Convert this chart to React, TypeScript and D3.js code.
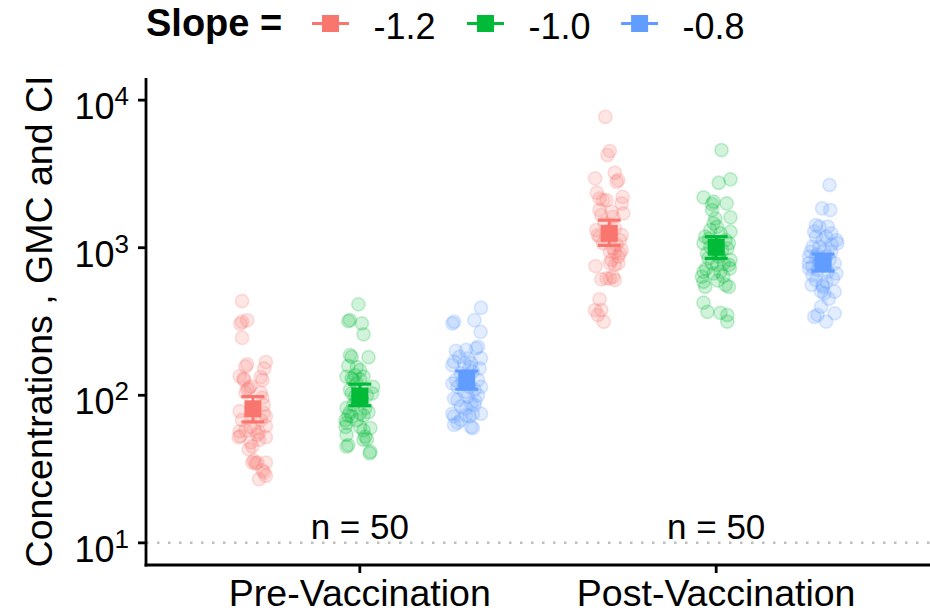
import * as d3 from 'd3';
import { useEffect, useRef } from 'react';

const width = 930;
const height = 614;

const visits = ['Pre-Vaccination', 'Post-Vaccination'];
const slopes = ['-1.2', '-1.0', '-0.8'];
const colors = ['#F8766D', '#00BA38', '#619CFF'];
const yTicks = [10, 100, 1000, 10000];
const nLabels = ['n = 50', 'n = 50'];

// [jitter (-1..1), concentration]
const preM12 = [
  [-0.76, 435], [-0.76, 315], [-0.4, 322], [-0.88, 305], [-0.76, 245], [-0.4, 162], [-0.52, 157],
  [0.91, 168], [0.79, 152], [-0.93, 135], [-0.64, 130], [0.55, 133], [0.67, 127], [-0.16, 115],
  [-0.29, 112], [0.55, 104], [0.67, 96], [-0.93, 78], [0.76, 86], [0.76, 76], [0.91, 72],
  [-0.76, 68], [0.91, 62], [-0.16, 61], [0.07, 59], [-0.93, 57], [-0.88, 53], [-1.0, 52],
  [0.43, 56], [0.31, 54], [0.91, 52], [-0.16, 48], [-0.29, 43], [-0.04, 45], [0.07, 36],
  [0.19, 34.5], [0.31, 35], [-0.04, 35], [0.91, 35], [0.67, 31], [0.79, 30], [0.91, 28.5],
  [0.43, 27], [-0.52, 104], [-0.16, 72], [-0.52, 58], [0.55, 68], [-0.4, 110], [0.43, 50],
  [-0.64, 127],
];
const preM10 = [
  [-0.1, 413], [-0.69, 323], [-0.81, 318], [0.14, 307], [0.26, 259], [-0.69, 187], [-0.57, 182],
  [0.61, 181], [-0.81, 158], [-0.21, 155], [0.02, 148], [-0.93, 134], [-0.57, 130], [-0.34, 137],
  [0.02, 128], [-0.69, 109], [0.93, 114], [0.86, 103], [-0.93, 82], [-0.69, 77], [-0.81, 73],
  [-1.0, 68], [-0.93, 65], [0.02, 75.5], [0.26, 73], [-0.21, 68], [0.74, 60], [0.26, 58],
  [-0.93, 54], [0.38, 52.5], [0.26, 50], [0.5, 50.4], [-0.81, 46], [-0.93, 45], [0.74, 41.5],
  [0.69, 40.5], [-0.46, 127], [-0.21, 120], [0.26, 134], [-0.57, 103], [-0.34, 98], [0.5, 100],
  [0.38, 82], [-0.46, 86], [-0.21, 93], [0.14, 95], [0.61, 77], [-1.0, 61], [-0.57, 72],
  [0.02, 61],
];
const preM08 = [
  [1.0, 392], [-0.89, 315], [-1.0, 307], [0.54, 323], [0.97, 269], [-0.76, 200], [-0.05, 203],
  [0.66, 208], [0.79, 213], [-0.89, 169], [-1.0, 160], [1.0, 178], [0.9, 152], [0.07, 178],
  [0.31, 165], [-0.76, 127], [-1.0, 120], [0.79, 127], [1.0, 114], [-0.89, 95], [-0.64, 93],
  [0.79, 100], [0.07, 98], [0.31, 88], [-1.0, 75], [-0.89, 72], [1.0, 75], [-0.05, 73],
  [0.19, 72], [0.43, 75], [-0.89, 63], [-0.64, 65], [0.31, 61], [0.43, 60], [-0.41, 141],
  [-0.05, 134], [0.43, 145], [-0.64, 114], [0.19, 114], [-0.17, 106], [0.54, 109], [-0.41, 84],
  [-0.05, 82], [0.54, 86], [-0.41, 68], [-0.17, 165], [-0.53, 182], [0.2, 155], [-0.3, 124],
  [0.6, 92],
];
const postM12 = [
  [-0.27, 7710], [0.04, 4520], [-0.13, 4250], [0.39, 3220], [-0.99, 2950], [0.63, 2870],
  [0.51, 2800], [-0.87, 2360], [-0.68, 2160], [-0.44, 2100], [-0.2, 2100], [0.94, 2210],
  [0.87, 1995], [0.99, 1710], [-0.68, 1800], [-0.56, 1665], [0.16, 1750], [0.27, 1620],
  [-0.91, 1318], [-0.8, 1220], [-0.68, 1188], [0.87, 1220], [0.75, 1127], [0.87, 964],
  [0.75, 916], [0.63, 869], [0.27, 989], [0.39, 940], [0.04, 783], [0.16, 826], [0.39, 765],
  [0.63, 783], [-0.96, 751], [-0.56, 611], [-0.2, 620], [0.04, 620], [0.27, 635], [0.39, 604],
  [-0.68, 447], [-1.0, 378], [-0.56, 378], [-0.8, 350], [-0.39, 315], [-0.32, 1462],
  [-0.2, 1188], [0.39, 1352], [-0.44, 1072], [0.04, 940], [-0.1, 1300], [0.5, 1050],
];
const postM10 = [
  [0.37, 4590], [0.18, 2755], [1.0, 2905], [-0.89, 2195], [-0.18, 2050], [-0.29, 1975],
  [0.73, 1995], [-0.06, 1580], [-0.18, 1462], [0.06, 1387], [1.0, 1607], [1.0, 1283],
  [-0.77, 1188], [-0.89, 1072], [0.89, 1072], [0.78, 989], [-0.65, 916], [-0.54, 847],
  [1.0, 826], [0.89, 765], [-0.29, 783], [0.06, 765], [0.54, 783], [-0.89, 687], [-1.0, 636],
  [-0.89, 588], [-0.77, 544], [-0.18, 670], [0.3, 687], [0.96, 724], [0.66, 559], [0.89, 544],
  [-0.89, 424], [-0.61, 368], [0.3, 362], [0.78, 350], [0.78, 316], [-0.41, 1318], [0.3, 1251],
  [-0.06, 1072], [0.42, 964], [-0.41, 1014], [0.66, 1127], [0.18, 869], [-0.29, 1800],
  [-0.5, 1150], [0.2, 900], [-0.7, 720], [0.5, 640], [0.1, 600],
];
const postM08 = [
  [0.45, 2660], [-0.07, 1850], [0.5, 1800], [-0.5, 1422], [-0.26, 1387], [0.33, 1387],
  [-0.62, 1283], [0.93, 1127], [1.0, 1072], [0.21, 1188], [-0.03, 1127], [-0.74, 1014],
  [-0.86, 940], [-0.98, 869], [-1.0, 783], [-0.98, 724], [0.81, 783], [0.93, 670], [-0.74, 653],
  [-0.5, 604], [0.21, 588], [-0.03, 559], [-0.14, 504], [0.09, 491], [0.81, 504], [-0.14, 398],
  [-0.62, 340], [-0.39, 350], [0.21, 316], [0.81, 359], [-0.26, 1014], [0.09, 964], [0.57, 940],
  [-0.5, 869], [0.45, 826], [-0.03, 765], [-0.39, 706], [0.33, 687], [-0.26, 783], [-0.74, 743],
  [0.21, 869], [0.57, 1251], [-0.5, 1188], [-0.03, 544], [0.6, 1050], [-0.4, 900], [0.7, 620],
  [-0.8, 560], [0.4, 450], [-0.2, 820],
];

const points = [
  [preM12, preM10, preM08],
  [postM12, postM10, postM08],
];

// geometric means and 95% CI per visit, per slope
const gmc = [[81, 99, 127], [1251, 1007, 796]];
const ciLow = [[66, 85, 110], [1037, 847, 695]];
const ciHigh = [[98, 119, 146], [1538, 1188, 906]];

const font = '"Liberation Sans", Arial, Helvetica, sans-serif';

const App = () => {
  const svgRef = useRef(null);

  useEffect(() => {
    const svg = d3.select(svgRef.current);
    svg.selectAll('*').remove();

    const left = 146;
    const right = 930;
    const top = 78;
    const bottom = 565;

    const x = d3.scalePoint().domain(visits).range([left, right]).padding(0.6);
    const step = x.step();
    const dodge = d3.scalePoint().domain(slopes).range([-0.3 * step, 0.3 * step]);
    const jitterW = 0.04 * step;
    const y = d3
      .scaleLog()
      .domain([Math.pow(10, 0.85), Math.pow(10, 4.15)])
      .range([bottom, top]);

    // reference line at LLOQ
    svg
      .append('line')
      .attr('x1', left)
      .attr('x2', right)
      .attr('y1', y(10))
      .attr('y2', y(10))
      .attr('stroke', '#BEBEBE')
      .attr('stroke-width', 2.5)
      .attr('stroke-dasharray', '2.5 8.5');

    // n labels
    svg
      .selectAll('text.nlab')
      .data(visits)
      .enter()
      .append('text')
      .attr('class', 'nlab')
      .attr('x', (d) => x(d))
      .attr('y', 539)
      .attr('text-anchor', 'middle')
      .style('font-family', font)
      .style('font-size', '35px')
      .text((d, i) => nLabels[i]);

    // jittered points
    visits.forEach((v, vi) => {
      slopes.forEach((s, si) => {
        const cx = x(v) + dodge(s);
        svg
          .append('g')
          .selectAll('circle')
          .data(points[vi][si])
          .enter()
          .append('circle')
          .attr('cx', (d) => cx + d[0] * jitterW)
          .attr('cy', (d) => y(d[1]))
          .attr('r', 6.6)
          .attr('fill', colors[si])
          .attr('fill-opacity', 0.18)
          .attr('stroke', colors[si])
          .attr('stroke-opacity', 0.22)
          .attr('stroke-width', 1.6);
      });
    });

    // GMC + CI
    visits.forEach((v, vi) => {
      slopes.forEach((s, si) => {
        const cx = x(v) + dodge(s);
        const g = svg.append('g').attr('stroke', colors[si]).attr('fill', colors[si]);
        g.append('line')
          .attr('x1', cx)
          .attr('x2', cx)
          .attr('y1', y(ciLow[vi][si]))
          .attr('y2', y(ciHigh[vi][si]))
          .attr('stroke-width', 3);
        [ciLow[vi][si], ciHigh[vi][si]].forEach((c) => {
          g.append('line')
            .attr('x1', cx - 11.5)
            .attr('x2', cx + 11.5)
            .attr('y1', y(c))
            .attr('y2', y(c))
            .attr('stroke-width', 3.2);
        });
        g.append('rect')
          .attr('x', cx - 8.5)
          .attr('y', y(gmc[vi][si]) - 8.5)
          .attr('width', 17)
          .attr('height', 17)
          .attr('stroke', 'none');
      });
    });

    // axes
    const axis = svg.append('g').attr('stroke', '#000').attr('stroke-width', 2.8);
    axis.append('line').attr('x1', left).attr('x2', left).attr('y1', top).attr('y2', bottom + 1.4);
    axis.append('line').attr('x1', left - 1.4).attr('x2', right).attr('y1', bottom).attr('y2', bottom);
    yTicks.forEach((t) => {
      axis.append('line').attr('x1', left - 8).attr('x2', left).attr('y1', y(t)).attr('y2', y(t));
    });
    visits.forEach((v) => {
      axis.append('line').attr('x1', x(v)).attr('x2', x(v)).attr('y1', bottom).attr('y2', bottom + 8);
    });

    const yl = svg
      .selectAll('text.ytick')
      .data(yTicks)
      .enter()
      .append('text')
      .attr('class', 'ytick')
      .attr('x', 129)
      .attr('y', (d) => y(d) + 19)
      .attr('text-anchor', 'end')
      .style('font-family', font)
      .style('font-size', '36px');
    yl.append('tspan').text('10');
    yl.append('tspan')
      .attr('dy', -14)
      .style('font-size', '26px')
      .text((d) => String(Math.round(Math.log10(d))));

    svg
      .selectAll('text.xtick')
      .data(visits)
      .enter()
      .append('text')
      .attr('class', 'xtick')
      .attr('x', (d) => x(d))
      .attr('y', 606)
      .attr('text-anchor', 'middle')
      .style('font-family', font)
      .style('font-size', '37.5px')
      .text((d) => d);

    svg
      .append('text')
      .attr('transform', `translate(52,${(top + bottom) / 2}) rotate(-90)`)
      .attr('text-anchor', 'middle')
      .style('font-family', font)
      .style('font-size', '37.5px')
      .text('Concentrations , GMC and CI');

    // legend
    svg
      .append('text')
      .attr('x', 146)
      .attr('y', 36)
      .style('font-family', font)
      .style('font-size', '38px')
      .style('font-weight', 'bold')
      .text('Slope =');
    const keyX = [330.5, 485.5, 639.6];
    slopes.forEach((s, i) => {
      const k = svg.append('g').attr('fill', colors[i]).attr('stroke', colors[i]);
      k.append('line')
        .attr('x1', keyX[i] - 18.5)
        .attr('x2', keyX[i] + 18.5)
        .attr('y1', 23.5)
        .attr('y2', 23.5)
        .attr('stroke-width', 3);
      k.append('rect')
        .attr('x', keyX[i] - 8.5)
        .attr('y', 15)
        .attr('width', 17)
        .attr('height', 17)
        .attr('stroke', 'none');
      svg
        .append('text')
        .attr('x', keyX[i] + 43)
        .attr('y', 39)
        .style('font-family', font)
        .style('font-size', '36px')
        .text(s);
    });
  }, []);

  return (
    <svg
      ref={svgRef}
      width={width}
      height={height}
      style={{ position: 'absolute', left: 0, top: 0, background: '#fff' }}
    ></svg>
  );
};

export default App;
